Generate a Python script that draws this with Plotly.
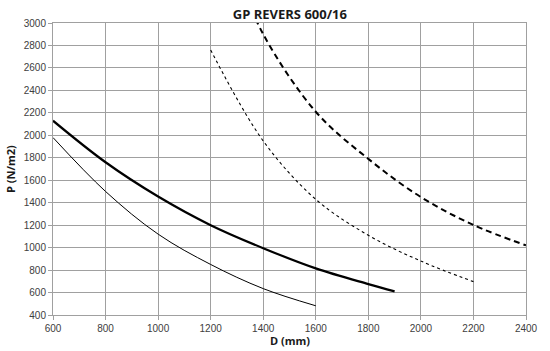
import plotly.graph_objects as go

# Data
d_thin = [600, 800, 1000, 1200, 1400, 1600]
p_thin = [1980, 1500, 1120, 850, 635, 482]

d_thick = [600, 800, 1000, 1200, 1400, 1600, 1800, 1900]
p_thick = [2130, 1760, 1455, 1200, 995, 815, 675, 610]

d_dot = [1200, 1400, 1600, 1800, 2000, 2200]
p_dot = [2760, 1950, 1430, 1110, 880, 697]

d_dash = [1300, 1400, 1600, 1800, 2000, 2200, 2400]
p_dash = [3450, 2900, 2210, 1790, 1450, 1202, 1020]

x_ticks = [600, 800, 1000, 1200, 1400, 1600, 1800, 2000, 2200, 2400]
y_ticks = list(range(400, 3001, 200))

fig = go.Figure()
fig.add_trace(go.Scatter(x=d_thin, y=p_thin, mode="lines", line=dict(color="black", width=1, shape="spline")))
fig.add_trace(go.Scatter(x=d_thick, y=p_thick, mode="lines", line=dict(color="black", width=2.2, shape="spline")))
fig.add_trace(go.Scatter(x=d_dot, y=p_dot, mode="lines", line=dict(color="black", width=1.1, dash="3px,3px", shape="spline")))
fig.add_trace(go.Scatter(x=d_dash, y=p_dash, mode="lines", line=dict(color="black", width=2, dash="6px,4px", shape="spline")))

axis_common = dict(
    showgrid=True, gridcolor="#a0a0a0", gridwidth=1,
    showline=True, linecolor="#a0a0a0", linewidth=1, mirror=True,
    ticks="outside", ticklen=4, tickcolor="#a0a0a0",
    tickfont=dict(family="Liberation Sans, Arial", size=10, color="#404040"),
    zeroline=False, automargin=False,
)

title_font = dict(family="Open Sans, Liberation Sans", size=11, color="#1a1a1a")

fig.update_layout(
    width=550, height=351,
    margin=dict(l=53, r=24, t=23, b=36),
    paper_bgcolor="white", plot_bgcolor="white",
    showlegend=False,
    title=dict(text="<b>GP REVERS 600/16</b>", x=0.527, xanchor="center", y=0.96, yanchor="middle",
               font=dict(family="Open Sans, Liberation Sans", size=13, color="#1a1a1a")),
    xaxis=dict(range=[600, 2400], tickvals=x_ticks, **axis_common),
    yaxis=dict(range=[400, 3000], tickvals=y_ticks, **axis_common),
    annotations=[
        dict(text="<b>D (mm)</b>", xref="paper", yref="paper", x=0.5, y=-0.089,
             xanchor="center", yanchor="middle", showarrow=False, font=title_font),
        dict(text="<b>P (N/m2)</b>", xref="paper", yref="paper", x=-0.091, y=0.5,
             xanchor="center", yanchor="middle", showarrow=False, textangle=-90, font=title_font),
    ],
)

fig.write_html("out.html")
